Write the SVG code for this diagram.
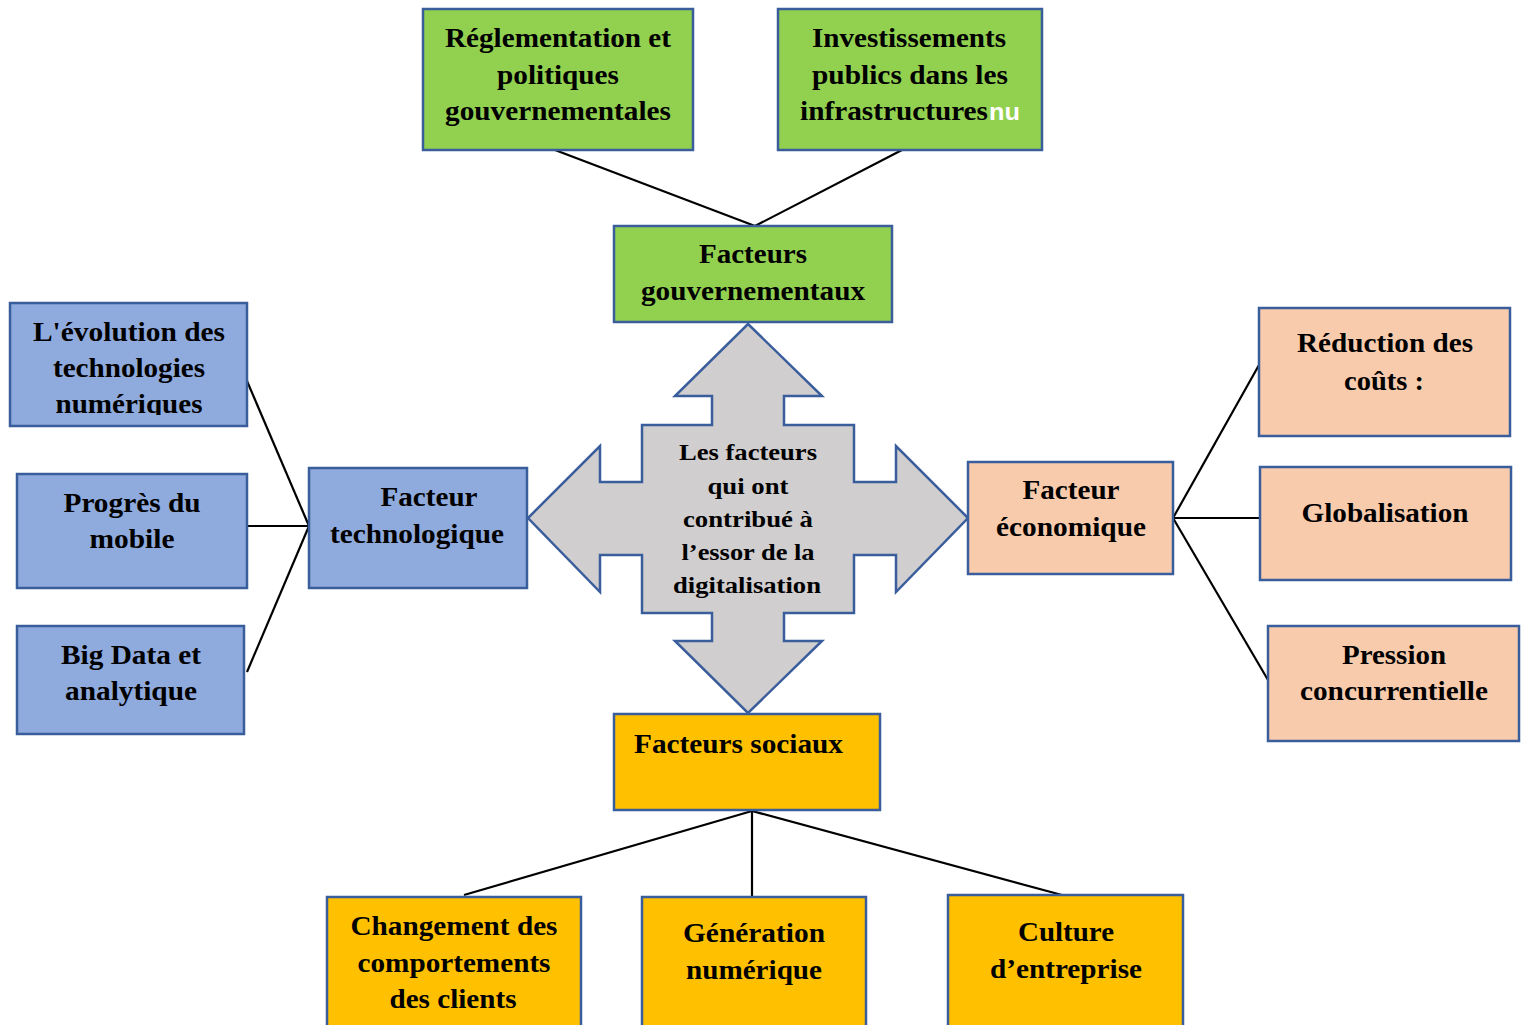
<svg xmlns="http://www.w3.org/2000/svg" width="1526" height="1025" viewBox="0 0 1526 1025">
<style>
.box{stroke:#3A5D9C;stroke-width:2.5}
.g{fill:#92D050}.b{fill:#8FAADC}.p{fill:#F8CBAD}.o{fill:#FFC000}
text{font-family:'Liberation Serif','Times New Roman',serif;font-weight:700;font-size:27px;fill:#000;text-anchor:middle}
.c{font-size:24px}
.s{text-anchor:start}
.w{font-family:'Liberation Sans',Arial,sans-serif;fill:#fff;font-size:24px;text-anchor:start}
.ln{stroke:#000;stroke-width:2.2;fill:none}
</style>
<defs>
<clipPath id="clipEvo"><rect x="10" y="303" width="237" height="112"/></clipPath>
</defs>
<rect width="1526" height="1025" fill="#fff"/>
<g id="connectors">
<line class="ln" x1="555" y1="150" x2="755" y2="226"/>
<line class="ln" x1="902" y1="150" x2="755" y2="226"/>
<line class="ln" x1="247" y1="381" x2="309" y2="526"/>
<line class="ln" x1="247" y1="526" x2="309" y2="526"/>
<line class="ln" x1="247" y1="672" x2="309" y2="526"/>
<line class="ln" x1="1173" y1="518" x2="1259" y2="365"/>
<line class="ln" x1="1173" y1="518" x2="1260" y2="518"/>
<line class="ln" x1="1173" y1="518" x2="1268" y2="680"/>
<line class="ln" x1="752" y1="811" x2="464" y2="895"/>
<line class="ln" x1="752" y1="811" x2="752" y2="897"/>
<line class="ln" x1="752" y1="811" x2="1062" y2="895"/>
</g>
<g id="center">
<polygon points="748,324 822,396 784,396 784,425 854,425 854,482 896,482 896,446 968,518 896,592 896,555 854,555 854,613 784,613 784,641 822,641 748,713 675,641 712,641 712,613 642,613 642,555 600,555 600,592 528,518 600,446 600,482 642,482 642,425 712,425 712,396 675,396" fill="#D0CECE" stroke="#3A5D9C" stroke-width="2.5"/>
<text class="c" x="748" y="460" textLength="138" lengthAdjust="spacingAndGlyphs">Les facteurs</text>
<text class="c" x="748" y="494" textLength="81" lengthAdjust="spacingAndGlyphs">qui ont</text>
<text class="c" x="748" y="527" textLength="130" lengthAdjust="spacingAndGlyphs">contribué à</text>
<text class="c" x="748" y="560" textLength="133" lengthAdjust="spacingAndGlyphs">l’essor de la</text>
<text class="c" x="747" y="593" textLength="148" lengthAdjust="spacingAndGlyphs">digitalisation</text>
</g>
<g id="reglementation">
<rect class="box g" x="423" y="9" width="270" height="141"/>
<text x="558" y="47" textLength="226" lengthAdjust="spacingAndGlyphs">Réglementation et</text>
<text x="558" y="84" textLength="122" lengthAdjust="spacingAndGlyphs">politiques</text>
<text x="558" y="120" textLength="226" lengthAdjust="spacingAndGlyphs">gouvernementales</text>
</g>
<g id="investissements">
<rect class="box g" x="778" y="9" width="264" height="141"/>
<text x="909" y="47" textLength="194" lengthAdjust="spacingAndGlyphs">Investissements</text>
<text x="910" y="84" textLength="196" lengthAdjust="spacingAndGlyphs">publics dans les</text>
<text class="s" x="800" y="120" textLength="188" lengthAdjust="spacingAndGlyphs">infrastructures</text>
<text class="w" x="989" y="120" textLength="31" lengthAdjust="spacingAndGlyphs">nu</text>
</g>
<g id="gouvernementaux">
<rect class="box g" x="614" y="226" width="278" height="96"/>
<text x="753" y="263" textLength="108" lengthAdjust="spacingAndGlyphs">Facteurs</text>
<text x="753" y="300" textLength="224" lengthAdjust="spacingAndGlyphs">gouvernementaux</text>
</g>
<g id="evolution">
<rect class="box b" x="10" y="303" width="237" height="123"/>
<g clip-path="url(#clipEvo)">
<text x="129" y="341" textLength="192" lengthAdjust="spacingAndGlyphs">L'évolution des</text>
<text x="129" y="377" textLength="152" lengthAdjust="spacingAndGlyphs">technologies</text>
<text x="129" y="413" textLength="147" lengthAdjust="spacingAndGlyphs">numériques</text>
</g>
</g>
<g id="mobile">
<rect class="box b" x="17" y="474" width="230" height="114"/>
<text x="132" y="512" textLength="137" lengthAdjust="spacingAndGlyphs">Progrès du</text>
<text x="132" y="548" textLength="85" lengthAdjust="spacingAndGlyphs">mobile</text>
</g>
<g id="bigdata">
<rect class="box b" x="17" y="626" width="227" height="108"/>
<text x="131" y="664" textLength="140" lengthAdjust="spacingAndGlyphs">Big Data et</text>
<text x="131" y="700" textLength="132" lengthAdjust="spacingAndGlyphs">analytique</text>
</g>
<g id="technologique">
<rect class="box b" x="309" y="468" width="218" height="120"/>
<text x="429" y="506" textLength="97" lengthAdjust="spacingAndGlyphs">Facteur</text>
<text x="417" y="543" textLength="174" lengthAdjust="spacingAndGlyphs">technologique</text>
</g>
<g id="economique">
<rect class="box p" x="968" y="462" width="205" height="112"/>
<text x="1071" y="499" textLength="97" lengthAdjust="spacingAndGlyphs">Facteur</text>
<text x="1071" y="536" textLength="150" lengthAdjust="spacingAndGlyphs">économique</text>
</g>
<g id="reduction">
<rect class="box p" x="1259" y="308" width="251" height="128"/>
<text x="1385" y="352" textLength="176" lengthAdjust="spacingAndGlyphs">Réduction des</text>
<text x="1384" y="390" textLength="80" lengthAdjust="spacingAndGlyphs">coûts :</text>
</g>
<g id="globalisation">
<rect class="box p" x="1260" y="467" width="251" height="113"/>
<text x="1385" y="522" textLength="167" lengthAdjust="spacingAndGlyphs">Globalisation</text>
</g>
<g id="pression">
<rect class="box p" x="1268" y="626" width="251" height="115"/>
<text x="1394" y="664" textLength="104" lengthAdjust="spacingAndGlyphs">Pression</text>
<text x="1394" y="700" textLength="188" lengthAdjust="spacingAndGlyphs">concurrentielle</text>
</g>
<g id="sociaux">
<rect class="box o" x="614" y="714" width="266" height="96"/>
<text class="s" x="634" y="753" textLength="209" lengthAdjust="spacingAndGlyphs">Facteurs sociaux</text>
</g>
<g id="changement">
<rect class="box o" x="327" y="897" width="254" height="135"/>
<text x="454" y="935" textLength="207" lengthAdjust="spacingAndGlyphs">Changement des</text>
<text x="454" y="972" textLength="193" lengthAdjust="spacingAndGlyphs">comportements</text>
<text x="453" y="1008" textLength="127" lengthAdjust="spacingAndGlyphs">des clients</text>
</g>
<g id="generation">
<rect class="box o" x="642" y="897" width="224" height="135"/>
<text x="754" y="942" textLength="142" lengthAdjust="spacingAndGlyphs">Génération</text>
<text x="754" y="979" textLength="136" lengthAdjust="spacingAndGlyphs">numérique</text>
</g>
<g id="culture">
<rect class="box o" x="948" y="895" width="235" height="137"/>
<text x="1066" y="941" textLength="96" lengthAdjust="spacingAndGlyphs">Culture</text>
<text x="1066" y="978" textLength="152" lengthAdjust="spacingAndGlyphs">d’entreprise</text>
</g>
</svg>
